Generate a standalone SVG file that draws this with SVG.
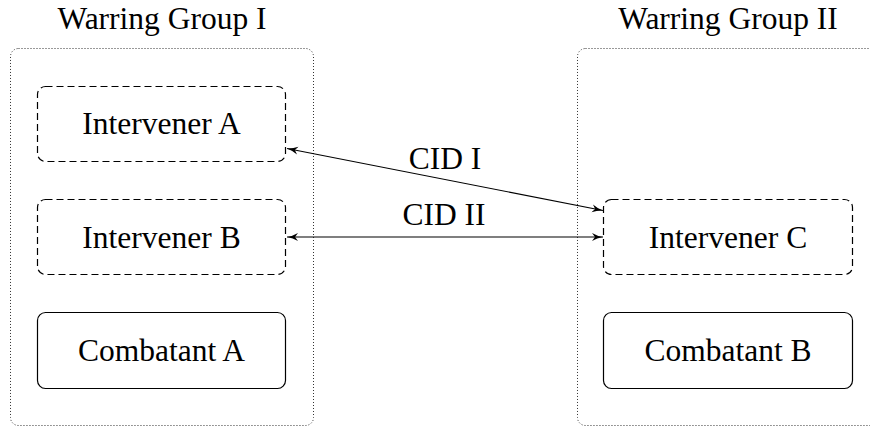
<svg xmlns="http://www.w3.org/2000/svg" width="870" height="427" viewBox="0 0 870 427">
<defs>
<marker id="arr" viewBox="0 0 12 10" refX="11" refY="5" markerWidth="12" markerHeight="10" markerUnits="userSpaceOnUse" orient="auto-start-reverse">
<path d="M0,1 Q5,4 11,5 Q5,6 0,9 L3,5 Z" fill="#000"/>
</marker>
</defs>
<rect width="870" height="427" fill="#fff"/>
<g id="group1">
<rect fill="none" stroke="#333" stroke-width="1" stroke-dasharray="1 2" x="10.5" y="48.5" width="303" height="377" rx="8"/>
<text x="162" y="29" text-anchor="middle" font-size="31.5" font-family="Times New Roman, Liberation Serif, serif">Warring Group I</text>
</g>
<g id="group2">
<rect fill="none" stroke="#333" stroke-width="1" stroke-dasharray="1 2" x="577.5" y="48.5" width="303" height="377" rx="8"/>
<text x="728" y="29" text-anchor="middle" font-size="31.5" font-family="Times New Roman, Liberation Serif, serif">Warring Group II</text>
</g>
<g id="interA">
<rect fill="#fff" stroke="#000" stroke-width="1.2" stroke-dasharray="7 4" x="37.5" y="86.5" width="248" height="75" rx="8"/>
<text x="161.5" y="134" text-anchor="middle" font-size="31.5" font-family="Times New Roman, Liberation Serif, serif">Intervener A</text>
</g>
<g id="interB">
<rect fill="#fff" stroke="#000" stroke-width="1.2" stroke-dasharray="7 4" x="37.5" y="199.5" width="248" height="75" rx="8"/>
<text x="161.5" y="248" text-anchor="middle" font-size="31.5" font-family="Times New Roman, Liberation Serif, serif">Intervener B</text>
</g>
<g id="combA">
<rect fill="#fff" stroke="#000" stroke-width="1.2" x="37.5" y="312.5" width="248" height="76" rx="8"/>
<text x="161.5" y="361" text-anchor="middle" font-size="31.5" font-family="Times New Roman, Liberation Serif, serif">Combatant A</text>
</g>
<g id="interC">
<rect fill="#fff" stroke="#000" stroke-width="1.2" stroke-dasharray="7 4" x="603.5" y="199.5" width="249" height="75" rx="8"/>
<text x="728" y="248" text-anchor="middle" font-size="31.5" font-family="Times New Roman, Liberation Serif, serif">Intervener C</text>
</g>
<g id="combB">
<rect fill="#fff" stroke="#000" stroke-width="1.2" x="603.5" y="312.5" width="249" height="76" rx="8"/>
<text x="728" y="361" text-anchor="middle" font-size="31.5" font-family="Times New Roman, Liberation Serif, serif">Combatant B</text>
</g>
<g id="connectors">
<line fill="none" stroke="#000" stroke-width="1.1" x1="287" y1="148.5" x2="603" y2="210.5" marker-start="url(#arr)" marker-end="url(#arr)"/>
<line fill="none" stroke="#000" stroke-width="1.1" x1="287" y1="237" x2="603" y2="237" marker-start="url(#arr)" marker-end="url(#arr)"/>
<text x="445" y="169" text-anchor="middle" font-size="31.5" font-family="Times New Roman, Liberation Serif, serif">CID I</text>
<text x="444" y="225" text-anchor="middle" font-size="31.5" font-family="Times New Roman, Liberation Serif, serif">CID II</text>
</g>
</svg>
